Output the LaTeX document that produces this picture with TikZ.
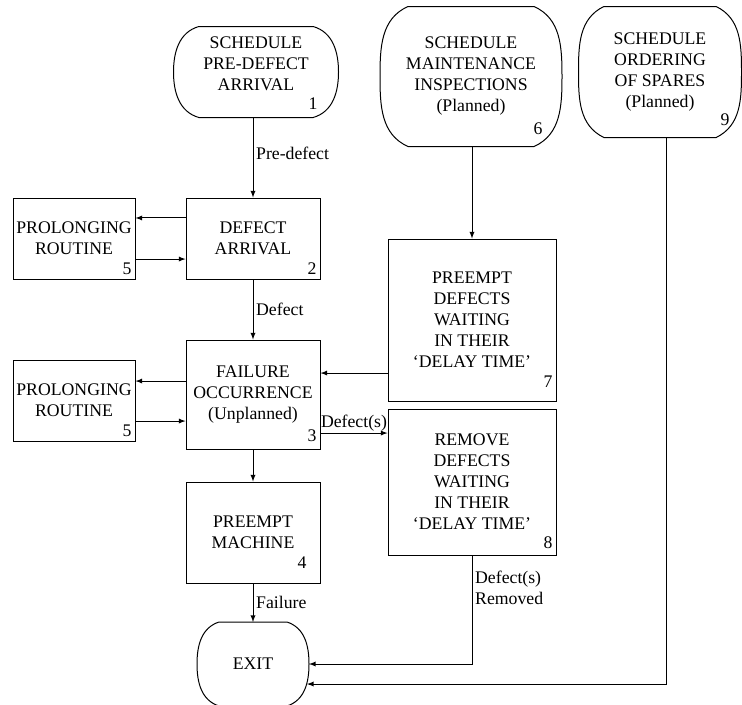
\documentclass[tikz,border=0pt]{standalone}
\usepackage{fontspec}
\setmainfont{Liberation Serif}
\usetikzlibrary{arrows,positioning}

\tikzset{
	box/.style={draw, rectangle, align=center, inner sep=0pt},
	term/.style={rectangle, align=center, inner sep=0pt},
	num/.style={inner sep=0pt},
	lbl/.style={inner sep=2pt}
}

\begin{document}
\begin{tikzpicture}[x=0.75pt,y=-0.75pt,>=latex,line width=0.75pt,
	font=\rmfamily\fontsize{13.3}{15.75}\selectfont]
\useasboundingbox (0,0) rectangle (742,704);

% start / end nodes
\node[term, minimum width=123pt, minimum height=67.5pt] (n1) at (256,72) {};
\node[term] (t1) at ([yshift=6.5pt]n1.center) {SCHEDULE\\PRE-DEFECT\\ARRIVAL};
\node[term, minimum width=135.75pt, minimum height=104.25pt] (n6) at (471,76.5) {SCHEDULE\\MAINTENANCE\\INSPECTIONS\\(Planned)};
\node[term, minimum width=121.5pt, minimum height=97.5pt] (n9) at (660,72) {SCHEDULE\\ORDERING\\OF SPARES\\(Planned)};
\node[term, minimum width=83.25pt, minimum height=62.25pt] (exit) at (253,664) {EXIT};

% rounded outlines (side bulge, slope at the corners)
\foreach \n/\r/\a in {n1/19pt/16, n6/21pt/24, n9/19pt/26, exit/16.5pt/18}
	\draw ([xshift=\r]\n.north west) -- ([xshift=-\r]\n.north east)
		to[out=-\a,in=90] (\n.east) to[out=-90,in=\a] ([xshift=-\r]\n.south east)
		-- ([xshift=\r]\n.south west) to[out=180-\a,in=-90] (\n.west)
		to[out=90,in=180+\a] cycle;

% process boxes
\node[box, minimum width=100.5pt, minimum height=60.75pt] (n2) at (253,238.5) {DEFECT\\ARRIVAL};
\node[box, minimum width=91.5pt, minimum height=60.75pt] (n5a) at (74,238.5) {PROLONGING\\ROUTINE};
\node[box, minimum width=100.5pt, minimum height=81.75pt] (n3) at (253,394.5) {FAILURE\\OCCURRENCE\\(Unplanned)};
\node[box, minimum width=91.5pt, minimum height=60.75pt] (n5b) at (74,400.5) {PROLONGING\\ROUTINE};
\node[box, minimum width=100.5pt, minimum height=75.75pt] (n4) at (253,532.5) {PREEMPT\\MACHINE};
\node[box, minimum width=126pt, minimum height=121.5pt] (n7) at (472,320) {PREEMPT\\DEFECTS\\WAITING\\IN THEIR\\`DELAY TIME'};
\node[box, minimum width=126pt, minimum height=109.5pt] (n8) at (472,482) {REMOVE\\DEFECTS\\WAITING\\IN THEIR\\`DELAY TIME'};

% routine numbers
\foreach \k/\x/\y [count=\c] in {1/313/104, 2/312/269, 3/312/436, 4/302/563, 5/127/269,
	5/127/431, 6/538/129, 7/548/382, 8/548/543, 9/725/120}
	\node[num] (num\c) at (\x,\y) {\k};

% side loops
\coordinate (a25) at ([yshift=15.4pt]n2.west);
\coordinate (a52) at ([yshift=-15.4pt]n5a.east);
\draw[->] (a25) -- (a25 -| n5a.east);
\draw[->] (a52) -- (a52 -| n2.west);
\coordinate (a35) at ([yshift=14.6pt]n5b.east);
\coordinate (a53) at ([yshift=-15.4pt]n5b.east);
\draw[->] (a35 -| n3.west) -- (a35);
\draw[->] (a53) -- (a53 -| n3.west);

% main flow
\draw[->] (n1.south -| n2) -- node[lbl,right,pos=0.45] {Pre-defect} (n2);
\draw[->] (n2) -- node[lbl,right] {Defect} (n3);
\draw[->] (n3) -- (n4);
\draw[->] (n4) -- node[lbl,right] {Failure} (exit);

% planned side
\draw[->] (n6.south -| n7) -- (n7);
\coordinate (a73) at ([yshift=16.1pt]n3.east);
\draw[->] (a73 -| n7.west) -- (a73);
\coordinate (a38) at ([yshift=-28.9pt]n3.east);
\draw[->] (a38) -- node[lbl,above,inner sep=1pt] {Defect(s)} (a38 -| n8.west);
\draw[->] (n8) |- node[lbl,right,pos=0.15,align=left] {Defect(s)\\Removed} (exit.east);
\coordinate (c9) at (666,684);
\draw[->] (n9.south -| c9) -- (c9) -- (c9 -| exit.east) -- ++(-2,0);
\end{tikzpicture}
\end{document}
